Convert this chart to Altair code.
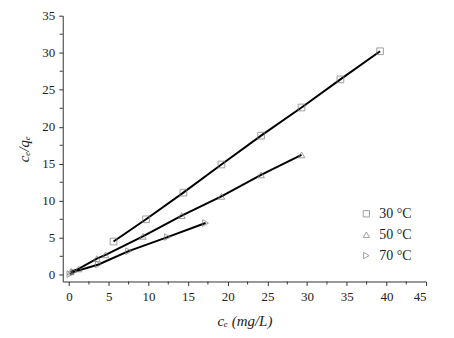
import altair as alt
import pandas as pd

# Data
x30 = [5.6, 9.7, 14.4, 19.2, 24.2, 29.3, 34.2, 39.2]
y30 = [4.5, 7.5, 11.1, 14.9, 18.8, 22.6, 26.4, 30.2]

x50 = [0.2, 1.2, 3.5, 4.6, 9.3, 14.2, 19.2, 24.2, 29.3]
y50 = [0.4, 0.8, 2.2, 2.7, 5.2, 8.0, 10.6, 13.5, 16.2]

x70 = [0.1, 0.6, 3.7, 7.5, 12.4, 17.2]
y70 = [0.1, 0.4, 1.4, 3.2, 5.1, 7.0]

series = ["30 °C", "50 °C", "70 °C"]

x_major = [0, 5, 10, 15, 20, 25, 30, 35, 40, 45]
y_major = [0, 5, 10, 15, 20, 25, 30, 35]
x_minor = [2.5, 7.5, 12.5, 17.5, 22.5, 27.5, 32.5, 37.5, 42.5]
y_minor = [2.5, 7.5, 12.5, 17.5, 22.5, 27.5, 32.5]

rows = []
for name, xs, ys in zip(series, [x30, x50, x70], [y30, y50, y70]):
    for a, b in zip(xs, ys):
        rows.append({"series": name, "ce": a, "ratio": b})
df = pd.DataFrame(rows)

W, H = 365, 267
FONT = "Liberation Serif"

xscale = alt.Scale(domain=[-0.8, 45], nice=False, zero=False)
yscale = alt.Scale(domain=[-0.9, 35], nice=False, zero=False)

xaxis = alt.Axis(values=x_major, title="cₑ  (mg/L)", grid=False, tickSize=4,
                 labelPadding=5, titlePadding=10, titleFontStyle="italic",
                 titleFontWeight="normal", format="d",
                 labelFont=FONT, labelFontSize=13, labelColor="#222",
                 titleFont=FONT, titleFontSize=15, titleColor="#222",
                 domainColor="#333", tickColor="#333")
yaxis = alt.Axis(values=y_major, title="cₑ/qₑ", grid=False, tickSize=4,
                 labelPadding=4, titlePadding=10, titleFontStyle="italic",
                 titleFontWeight="normal", format="d",
                 labelFont=FONT, labelFontSize=13, labelColor="#222",
                 titleFont=FONT, titleFontSize=15, titleColor="#222",
                 domainColor="#333", tickColor="#333")

X = alt.X("ce:Q", scale=xscale, axis=xaxis)
Y = alt.Y("ratio:Q", scale=yscale, axis=yaxis)

lines = alt.Chart(df).mark_line(color="black", strokeWidth=2).encode(
    x=X, y=Y, detail="series:N",
)

points = alt.Chart(df).mark_point(filled=False, color="#777", size=45, strokeWidth=1).encode(
    x=X, y=Y,
    shape=alt.Shape("series:N",
                    scale=alt.Scale(domain=series,
                                    range=["square", "triangle-up", "triangle-right"]),
                    legend=alt.Legend(title=None, orient="none", legendX=298, legendY=192,
                                      labelFont=FONT, labelFontSize=14, labelColor="#222",
                                      symbolStrokeColor="#777", symbolFillColor="white",
                                      symbolStrokeWidth=1, symbolSize=40,
                                      rowPadding=7, labelOffset=6)),
)

xm = alt.Chart(pd.DataFrame({"ce": x_minor})).mark_rule(color="#333", strokeWidth=1).encode(
    x=X, y=alt.value(H), y2=alt.value(H + 3),
)
ym = alt.Chart(pd.DataFrame({"ratio": y_minor})).mark_rule(color="#333", strokeWidth=1).encode(
    y=Y, x=alt.value(0), x2=alt.value(-3),
)

chart = alt.layer(lines, points, xm, ym).properties(
    width=W, height=H,
    background="white",
    autosize=alt.AutoSizeParams(type="none"),
    padding={"left": 55, "top": 7, "right": 20, "bottom": 50},
).configure_view(strokeWidth=0)

chart.save("out.html", embed_options={"renderer": "svg", "actions": False})
